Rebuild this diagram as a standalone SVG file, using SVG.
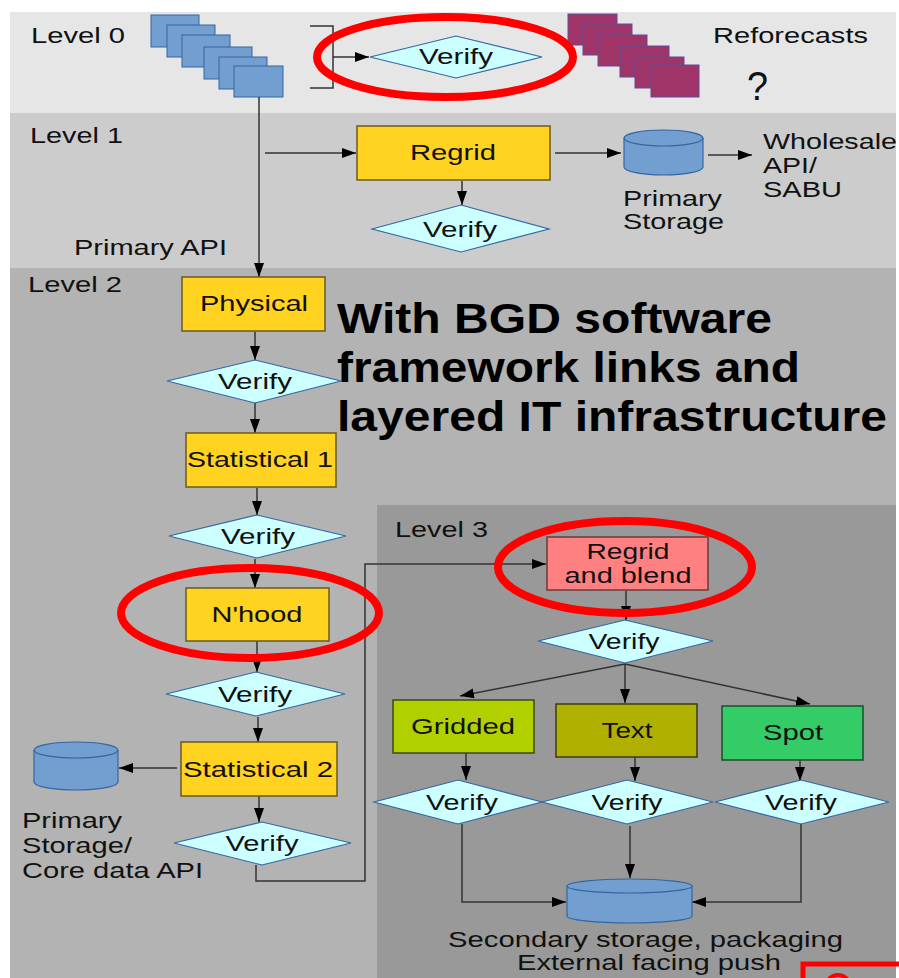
<svg xmlns="http://www.w3.org/2000/svg" width="899" height="978" viewBox="0 0 899 978">
<defs>
<style>
.t{font-family:"Liberation Sans",Arial,sans-serif;font-size:22px;fill:#111;}
.b{font-family:"Liberation Sans",Arial,sans-serif;font-size:42px;font-weight:bold;fill:#000;}
.c{text-anchor:middle;}
.box{fill:#ffd320;stroke:#6b5a1e;stroke-width:1.5;}
.dia{fill:#ccffff;stroke:#3465a4;stroke-width:1.2;}
.cyl{fill:#729fcf;stroke:#3465a4;stroke-width:1.2;}
.sq{fill:#729fcf;stroke:#3465a4;stroke-width:1;}
.sqm{fill:#9e3468;stroke:#5c4d99;stroke-width:1;}
.ln{fill:none;stroke:#333;stroke-width:1.5;}
.ar{marker-end:url(#ah);}
.red{fill:none;stroke:#ff0000;stroke-width:8;}
</style>
<marker id="ah" markerWidth="14" markerHeight="10" refX="14" refY="5" orient="auto" markerUnits="userSpaceOnUse"><path d="M0,0 L14,5 L0,10 z" fill="#000"/></marker>
</defs>
<rect width="899" height="978" fill="#fff"/>
<g id="bands">
<rect x="10" y="12" width="886" height="101" fill="#e6e6e6"/>
<rect x="10" y="113" width="886" height="155" fill="#cccccc"/>
<rect x="10" y="268" width="886" height="710" fill="#b3b3b3"/>
<rect x="377" y="505" width="519" height="473" fill="#999999"/>
</g>
<g id="labels">
<text class="t" x="31" y="43" textLength="94" lengthAdjust="spacingAndGlyphs">Level 0</text>
<text class="t" x="30" y="143" textLength="93" lengthAdjust="spacingAndGlyphs">Level 1</text>
<text class="t" x="28" y="292" textLength="94" lengthAdjust="spacingAndGlyphs">Level 2</text>
<text class="t" x="395" y="537" textLength="93" lengthAdjust="spacingAndGlyphs">Level 3</text>
<text class="t" x="74" y="255" textLength="153" lengthAdjust="spacingAndGlyphs">Primary API</text>
<text class="t" x="713" y="43" textLength="155" lengthAdjust="spacingAndGlyphs">Reforecasts</text>
<text class="t" x="747" y="100" style="font-size:40px" textLength="21" lengthAdjust="spacingAndGlyphs">?</text>
<text class="b" x="337" y="333" textLength="435" lengthAdjust="spacingAndGlyphs">With BGD software</text>
<text class="b" x="337" y="382" textLength="463" lengthAdjust="spacingAndGlyphs">framework links and</text>
<text class="b" x="337" y="431" textLength="550" lengthAdjust="spacingAndGlyphs">layered IT infrastructure</text>
</g>
<g id="ensemble">
<rect class="sq" x="151" y="15" width="48" height="32"/>
<rect class="sq" x="167" y="25" width="48" height="32"/>
<rect class="sq" x="182" y="35" width="48" height="32"/>
<rect class="sq" x="204" y="47" width="48" height="32"/>
<rect class="sq" x="219" y="57" width="48" height="32"/>
<rect class="sq" x="234" y="66" width="49" height="31"/>
</g>
<g id="reforecasts">
<rect class="sqm" x="568" y="14" width="49" height="31"/>
<rect class="sqm" x="583" y="24" width="49" height="31"/>
<rect class="sqm" x="598" y="35" width="49" height="31"/>
<rect class="sqm" x="620" y="46" width="49" height="31"/>
<rect class="sqm" x="635" y="57" width="49" height="31"/>
<rect class="sqm" x="651" y="65" width="48" height="32"/>
</g>
<g id="connectors">
<path class="ln" d="M310,26 H333 V88 H310"/>
<path class="ln ar" d="M333,57 H369"/>
<path class="ln ar" d="M259,97 V277"/>
<path class="ln ar" d="M265,153 H356"/>
<path class="ln ar" d="M555,153 H621"/>
<path class="ln ar" d="M708,155 H752"/>
<path class="ln ar" d="M462,181 V205"/>
<path class="ln ar" d="M255,332 V360"/>
<path class="ln ar" d="M255,403 V433"/>
<path class="ln ar" d="M257,488 V515"/>
<path class="ln ar" d="M255,559 V588"/>
<path class="ln ar" d="M257,641 V672"/>
<path class="ln ar" d="M258,717 V742"/>
<path class="ln ar" d="M177,768 H119"/>
<path class="ln ar" d="M259,796 V822"/>
<path class="ln ar" d="M256,865 V881 H365 V564 H546"/>
<path class="ln ar" d="M626,591 V620"/>
<path class="ln ar" d="M625,664 L460,696"/>
<path class="ln ar" d="M625,664 V703"/>
<path class="ln ar" d="M625,664 L810,704"/>
<path class="ln ar" d="M466,753 V780"/>
<path class="ln ar" d="M635,757 V781"/>
<path class="ln ar" d="M800,760 V781"/>
<path class="ln ar" d="M462,824 V902 H566"/>
<path class="ln ar" d="M630,826 V878"/>
<path class="ln ar" d="M801,824 V902 H692"/>
</g>
<g id="verify0"><polygon class="dia" points="370,57 456,36 542,57 456,78"/><text class="t c" x="456" y="64" textLength="74" lengthAdjust="spacingAndGlyphs">Verify</text></g>
<g id="regrid1"><rect class="box" x="357" y="126" width="193" height="54"/><text class="t c" x="453" y="160" textLength="86" lengthAdjust="spacingAndGlyphs">Regrid</text></g>
<g id="verify1"><polygon class="dia" points="372,229 461,205 549,229 461,252"/><text class="t c" x="460" y="237" textLength="74" lengthAdjust="spacingAndGlyphs">Verify</text></g>
<g id="storage1">
<path class="cyl" d="M624,138 V167 A39.5,8 0 0 0 703,167 V138"/>
<ellipse class="cyl" cx="663.5" cy="138" rx="39.5" ry="8"/>
<text class="t" x="623" y="206" textLength="99" lengthAdjust="spacingAndGlyphs">Primary</text>
<text class="t" x="623" y="229" textLength="101" lengthAdjust="spacingAndGlyphs">Storage</text>
</g>
<g id="wholesale">
<text class="t" x="763" y="149" textLength="134" lengthAdjust="spacingAndGlyphs">Wholesale</text>
<text class="t" x="763" y="173" textLength="54" lengthAdjust="spacingAndGlyphs">API/</text>
<text class="t" x="763" y="197" textLength="79" lengthAdjust="spacingAndGlyphs">SABU</text>
</g>
<g id="physical"><rect class="box" x="182" y="277" width="143" height="54"/><text class="t c" x="254" y="311" textLength="108" lengthAdjust="spacingAndGlyphs">Physical</text></g>
<g id="verify2a"><polygon class="dia" points="167,381 255,360 341,381 255,403"/><text class="t c" x="255" y="389" textLength="74" lengthAdjust="spacingAndGlyphs">Verify</text></g>
<g id="stat1"><rect class="box" x="186" y="433" width="150" height="54"/><text class="t c" x="260" y="467" textLength="146" lengthAdjust="spacingAndGlyphs">Statistical 1</text></g>
<g id="verify2b"><polygon class="dia" points="169,536 257,515 346,536 257,558"/><text class="t c" x="258" y="544" textLength="74" lengthAdjust="spacingAndGlyphs">Verify</text></g>
<g id="nhood"><rect class="box" x="186" y="588" width="143" height="53"/><text class="t c" x="257" y="622" textLength="91" lengthAdjust="spacingAndGlyphs">N'hood</text></g>
<g id="verify2c"><polygon class="dia" points="166,694 256,672 345,694 256,716"/><text class="t c" x="255" y="702" textLength="74" lengthAdjust="spacingAndGlyphs">Verify</text></g>
<g id="stat2"><rect class="box" x="181" y="742" width="156" height="54"/><text class="t c" x="258" y="777" textLength="150" lengthAdjust="spacingAndGlyphs">Statistical 2</text></g>
<g id="verify2d"><polygon class="dia" points="174,843 262,822 351,843 262,865"/><text class="t c" x="262" y="851" textLength="73" lengthAdjust="spacingAndGlyphs">Verify</text></g>
<g id="storage2">
<path class="cyl" d="M34,750 V782 A42,8 0 0 0 118,782 V750"/>
<ellipse class="cyl" cx="76" cy="750" rx="42" ry="8"/>
<text class="t" x="22" y="828" textLength="100" lengthAdjust="spacingAndGlyphs">Primary</text>
<text class="t" x="22" y="853" textLength="110" lengthAdjust="spacingAndGlyphs">Storage/</text>
<text class="t" x="22" y="878" textLength="181" lengthAdjust="spacingAndGlyphs">Core data API</text>
</g>
<g id="regridblend"><rect x="547" y="537" width="161" height="53" fill="#ff8080" stroke="#6b3a3a" stroke-width="1.5"/>
<text class="t c" x="628" y="559" textLength="83" lengthAdjust="spacingAndGlyphs">Regrid</text>
<text class="t c" x="628" y="583" textLength="127" lengthAdjust="spacingAndGlyphs">and blend</text></g>
<g id="verify3"><polygon class="dia" points="538,641 625,620 713,641 625,663"/><text class="t c" x="624" y="649" textLength="71" lengthAdjust="spacingAndGlyphs">Verify</text></g>
<g id="gridded"><rect x="393" y="700" width="141" height="53" fill="#b2d000" stroke="#3b4a10" stroke-width="1.5"/><text class="t c" x="463" y="734" textLength="104" lengthAdjust="spacingAndGlyphs">Gridded</text></g>
<g id="text"><rect x="556" y="704" width="141" height="53" fill="#b0b000" stroke="#3b3b10" stroke-width="1.5"/><text class="t c" x="627" y="738" textLength="51" lengthAdjust="spacingAndGlyphs">Text</text></g>
<g id="spot"><rect x="722" y="706" width="141" height="54" fill="#33cc66" stroke="#1d4d2a" stroke-width="1.5"/><text class="t c" x="793" y="740" textLength="60" lengthAdjust="spacingAndGlyphs">Spot</text></g>
<g id="verifyG"><polygon class="dia" points="374,802 458,780 542,802 458,824"/><text class="t c" x="462" y="810" textLength="72" lengthAdjust="spacingAndGlyphs">Verify</text></g>
<g id="verifyT"><polygon class="dia" points="542,802 627,780 713,802 627,824"/><text class="t c" x="627" y="810" textLength="71" lengthAdjust="spacingAndGlyphs">Verify</text></g>
<g id="verifyS"><polygon class="dia" points="715,802 801,780 889,802 801,824"/><text class="t c" x="801" y="810" textLength="72" lengthAdjust="spacingAndGlyphs">Verify</text></g>
<g id="storage3">
<path class="cyl" d="M567,886 V916 A62.5,7 0 0 0 692,916 V886"/>
<ellipse class="cyl" cx="629.5" cy="886" rx="62.5" ry="7"/>
<text class="t" x="448" y="947" textLength="395" lengthAdjust="spacingAndGlyphs">Secondary storage, packaging</text>
<text class="t" x="517" y="970" textLength="264" lengthAdjust="spacingAndGlyphs">External facing push</text>
</g>
<g id="highlights">
<ellipse class="red" cx="445" cy="57" rx="128" ry="40"/>
<ellipse class="red" cx="250" cy="613" rx="129" ry="45"/>
<ellipse class="red" cx="625" cy="567" rx="127" ry="46"/>
<path d="M803,978 V964 H899" fill="none" stroke="#ff0000" stroke-width="5"/>
<circle cx="838" cy="987" r="12" fill="none" stroke="#ff0000" stroke-width="4"/>
</g>
</svg>
